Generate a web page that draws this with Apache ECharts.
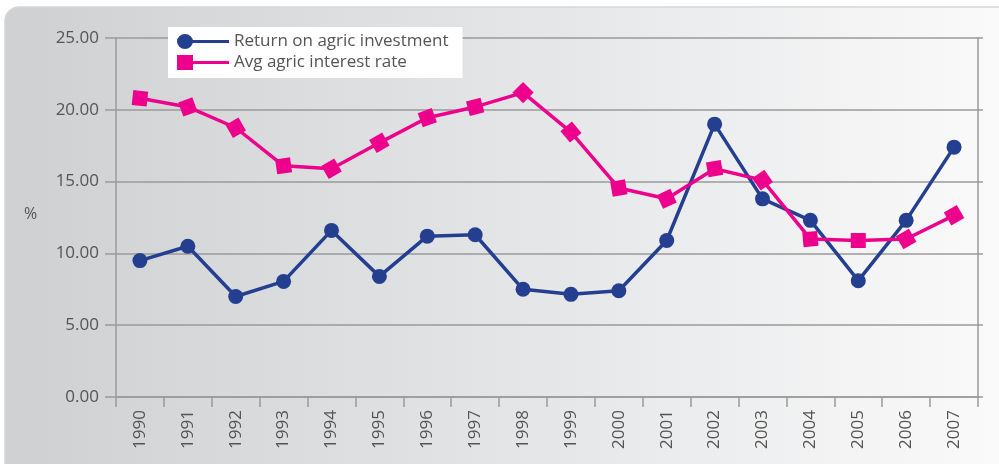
<!DOCTYPE html>
<html>
<head>
<meta charset="utf-8">
<script src="https://cdn.jsdelivr.net/npm/echarts@6/dist/echarts.min.js"></script>
<style>
  html, body { margin: 0; padding: 0; background: #fff; }
  #chart { width: 999px; height: 464px; }
</style>
</head>
<body>
<div id="chart"></div>
<script>
// 数据
var years = ['1990', '1991', '1992', '1993', '1994', '1995', '1996', '1997', '1998',
             '1999', '2000', '2001', '2002', '2003', '2004', '2005', '2006', '2007'];
var returnOnInvestment = [9.5, 10.5, 7.0, 8.05, 11.6, 8.4, 11.2, 11.3, 7.5,
                          7.15, 7.4, 10.9, 19.0, 13.8, 12.3, 8.1, 12.3, 17.4];
var avgInterestRate = [20.8, 20.2, 18.75, 16.1, 15.9, 17.7, 19.45, 20.2, 21.2,
                       18.45, 14.55, 13.8, 15.9, 15.1, 11.0, 10.9, 11.0, 12.65];
var yTicks = [0, 5, 10, 15, 20, 25];

// marker tilt (style only)
var squareTilt = [-6, 20, 30, 8, 30, 30, 20, 15, 45, 40, 10, 25, 10, 35, 5, 0, 30, 30];

var font = '"Open Sans", "DejaVu Sans", sans-serif';
var textColor = '#555';
var gridColor = '#9a9a9a';
var blue = '#243f8f';
var pink = '#ec008c';

var chart = echarts.init(document.getElementById('chart'));

var option = {
    animation: false,
    graphic: [{
        type: 'rect',
        silent: true,
        z: -10,
        shape: { x: 5, y: 7, width: 1020, height: 480, r: 14 },
        style: {
            fill: new echarts.graphic.LinearGradient(0, 0, 1, 0, [
                { offset: 0, color: '#cfd0d2' },
                { offset: 0.5, color: '#e4e5e7' },
                { offset: 1, color: '#fbfbfb' }
            ]),
            stroke: '#d6d6d6',
            lineWidth: 1.5
        }
    }, {
        type: 'text',
        left: 24,
        top: 206,
        style: { text: '%', fill: textColor, font: '16px ' + font }
    }],
    legend: {
        orient: 'vertical',
        left: 168,
        top: 27,
        backgroundColor: '#fff',
        padding: [6, 14, 7, 9],
        itemWidth: 52,
        itemHeight: 15,
        itemGap: 4,
        symbolKeepAspect: false,
        selectedMode: false,
        textStyle: { fontSize: 17, lineHeight: 17, color: textColor, fontFamily: font },
        data: [{
            name: 'Return on agric investment',
            icon: 'path://M0,8 A8,8 0 1,1 16,8 A8,8 0 1,1 0,8 Z M12,6.5 L52,6.5 L52,9.5 L12,9.5 Z'
        }, {
            name: 'Avg agric interest rate',
            icon: 'path://M0,0 L16,0 L16,16 L0,16 Z M12,6.5 L52,6.5 L52,9.5 L12,9.5 Z'
        }]
    },
    grid: { left: 116, right: 21, top: 38, bottom: 67 },
    xAxis: {
        type: 'category',
        data: years,
        boundaryGap: true,
        axisLine: { lineStyle: { color: gridColor, width: 1.5 } },
        axisTick: { show: true, length: 10, interval: 0, lineStyle: { color: gridColor, width: 1.5 } },
        axisLabel: {
            interval: 0,
            rotate: 90,
            margin: 13,
            fontSize: 17,
            color: textColor,
            fontFamily: font
        }
    },
    yAxis: [{
        type: 'value',
        min: yTicks[0],
        max: yTicks[yTicks.length - 1],
        interval: 5,
        axisLine: { show: true, lineStyle: { color: gridColor, width: 1.5 } },
        axisTick: { show: true, length: 11, lineStyle: { color: gridColor, width: 1.5 } },
        splitLine: { show: true, lineStyle: { color: gridColor, width: 1.5 } },
        axisLabel: {
            margin: 17,
            fontSize: 17,
            color: textColor,
            fontFamily: font,
            formatter: function (v) { return v.toFixed(2); }
        }
    }, {
        type: 'value',
        position: 'right',
        min: yTicks[0],
        max: yTicks[yTicks.length - 1],
        interval: 5,
        axisLine: { show: true, lineStyle: { color: gridColor, width: 1.5 } },
        axisTick: { show: true, length: 5, lineStyle: { color: gridColor, width: 1.5 } },
        splitLine: { show: false },
        axisLabel: { show: false }
    }],
    series: [{
        name: 'Return on agric investment',
        type: 'line',
        data: returnOnInvestment,
        color: blue,
        symbol: 'circle',
        symbolSize: 15,
        lineStyle: { width: 3.5, color: blue },
        itemStyle: { color: blue }
    }, {
        name: 'Avg agric interest rate',
        type: 'line',
        data: avgInterestRate,
        color: pink,
        symbol: 'rect',
        symbolSize: 15,
        symbolRotate: function (value, params) {
            return squareTilt[params.dataIndex];
        },
        lineStyle: { width: 3.5, color: pink },
        itemStyle: { color: pink }
    }]
};

chart.setOption(option);

window.onresize = function () {
    chart.resize();
};
</script>
</body>
</html>
